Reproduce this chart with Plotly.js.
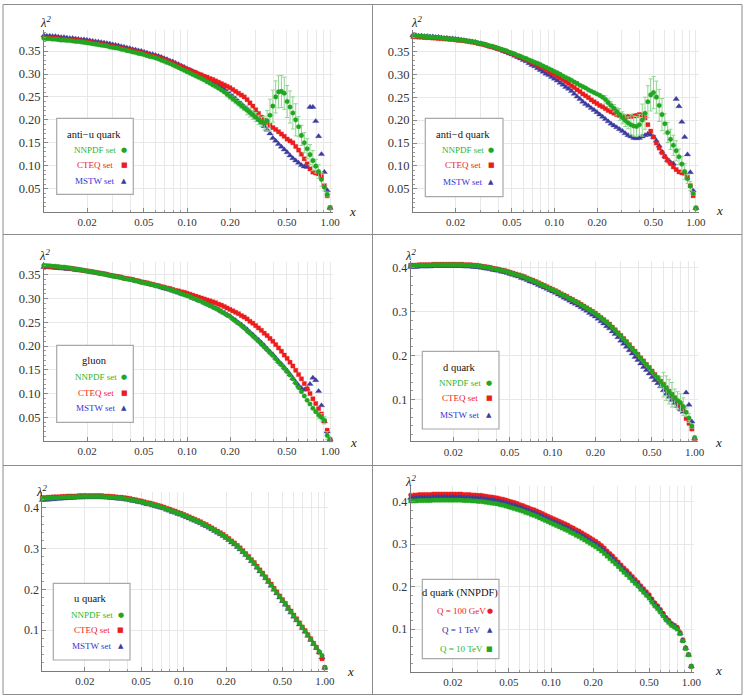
<!DOCTYPE html>
<html><head><meta charset="utf-8">
<script src="https://cdn.plot.ly/plotly-3.0.1.min.js"></script>
<style>html,body{margin:0;padding:0;background:#fff}#chart{width:747px;height:699px}</style>
</head><body><div id="chart"></div>
<script>
// ---------- x grid (momentum fraction) ----------
const X = [0.01,0.01047,0.01096,0.01148,0.01202,0.01259,0.01318,0.0138,0.01445,0.01514,
0.01585,0.0166,0.01738,0.0182,0.01905,0.01995,0.02089,0.02188,0.02291,0.02399,
0.02512,0.0263,0.02754,0.02884,0.0302,0.03162,0.03311,0.03467,0.03631,0.03802,
0.03981,0.04169,0.04365,0.04571,0.04786,0.05012,0.05248,0.05495,0.05754,0.06026,
0.0631,0.06607,0.06918,0.07244,0.07586,0.07943,0.08318,0.0871,0.0912,0.0955,
0.1,0.1047,0.1096,0.1148,0.1202,0.1259,0.1318,0.138,0.1445,0.1514,
0.1585,0.166,0.1738,0.182,0.1905,0.1995,0.2089,0.2188,0.2291,0.2399,
0.2512,0.263,0.2754,0.2884,0.302,0.3162,0.3311,0.3467,0.3631,0.3802,
0.3981,0.4169,0.4365,0.4571,0.4786,0.5012,0.5248,0.5495,0.5754,0.6026,
0.631,0.6607,0.6918,0.7244,0.7586,0.7943,0.8318,0.871,0.912,0.955,
1.0];

// ---------- panel 1: anti-u quark ----------
const antiU_NNPDF = [0.378,0.377,0.377,0.376,0.376,0.375,0.374,0.374,0.373,0.373,
0.372,0.371,0.371,0.370,0.369,0.368,0.367,0.366,0.365,0.364,
0.363,0.362,0.361,0.359,0.358,0.357,0.356,0.354,0.353,0.351,
0.350,0.348,0.347,0.345,0.344,0.342,0.340,0.338,0.337,0.335,
0.333,0.330,0.328,0.325,0.323,0.320,0.317,0.314,0.311,0.308,
0.305,0.302,0.299,0.296,0.293,0.290,0.287,0.283,0.280,0.276,
0.273,0.269,0.265,0.261,0.256,0.251,0.246,0.241,0.236,0.231,
0.226,0.221,0.216,0.211,0.206,0.200,0.196,0.193,0.198,0.210,
0.230,0.250,0.261,0.262,0.258,0.240,0.228,0.215,0.200,0.185,
0.166,0.150,0.137,0.124,0.111,0.099,0.087,0.070,0.053,0.037,
0.008];
const antiU_NNPDF_err = [0,0,0,0,0,0,0,0,0,0, 0,0,0,0,0,0,0,0,0,0, 0,0,0,0,0,0,0,0,0,0,
0,0,0,0,0,0,0,0,0,0, 0,0,0,0,0,0,0,0,0,0, 0,0,0,0,0,0,0,0,0,0,
0,0,0,0,0.006,0.006,0.006,0.006,0.006,0.006,
0.006,0.01,0.01,0.01,0.01,0.01,0.01,0.015,0.022,0.035,
0.035,0.035,0.035,0.035,0.035,0.035,0.035,0.035,0.035,0.022,
0.022,0.022,0.022,0.022,0.022,0.015,0.015,0.015,0.008,0.005,
0.003];
const antiU_CTEQ = [0.380,0.379,0.379,0.378,0.378,0.377,0.376,0.376,0.375,0.375,
0.374,0.373,0.373,0.372,0.371,0.370,0.369,0.368,0.367,0.366,
0.365,0.364,0.363,0.361,0.360,0.359,0.358,0.356,0.355,0.353,
0.352,0.351,0.349,0.348,0.346,0.345,0.343,0.341,0.340,0.338,
0.336,0.334,0.331,0.329,0.326,0.324,0.321,0.318,0.316,0.313,
0.310,0.308,0.305,0.303,0.300,0.298,0.295,0.293,0.290,0.288,
0.285,0.282,0.279,0.276,0.273,0.270,0.266,0.262,0.258,0.254,
0.250,0.244,0.237,0.230,0.222,0.214,0.206,0.199,0.193,0.188,
0.183,0.179,0.174,0.169,0.164,0.158,0.154,0.150,0.142,0.134,
0.125,0.115,0.104,0.093,0.086,0.084,0.082,0.076,0.057,0.034,
0.008];
const antiU_MSTW = [0.384,0.383,0.383,0.382,0.382,0.381,0.380,0.380,0.379,0.378,
0.378,0.377,0.376,0.375,0.375,0.374,0.373,0.372,0.371,0.370,
0.369,0.368,0.367,0.366,0.364,0.363,0.362,0.360,0.359,0.357,
0.356,0.354,0.353,0.351,0.350,0.348,0.346,0.344,0.343,0.341,
0.339,0.337,0.334,0.332,0.329,0.327,0.324,0.321,0.318,0.315,
0.312,0.309,0.306,0.303,0.300,0.297,0.294,0.290,0.287,0.283,
0.279,0.275,0.271,0.266,0.261,0.256,0.251,0.246,0.240,0.235,
0.229,0.224,0.218,0.212,0.206,0.200,0.193,0.186,0.178,0.170,
0.160,0.154,0.147,0.141,0.135,0.129,0.122,0.116,0.111,0.106,
0.101,0.098,0.097,0.228,0.228,0.197,0.164,0.125,0.086,0.046,
0.008];

// ---------- panel 2: anti-d quark ----------
const antiD_NNPDF = [0.384,0.384,0.383,0.383,0.382,0.382,0.381,0.381,0.380,0.380,
0.379,0.378,0.378,0.377,0.377,0.376,0.375,0.374,0.374,0.373,
0.372,0.371,0.370,0.368,0.367,0.366,0.364,0.362,0.361,0.359,
0.357,0.355,0.353,0.351,0.348,0.346,0.344,0.341,0.339,0.336,
0.334,0.331,0.329,0.326,0.324,0.321,0.318,0.315,0.312,0.309,
0.306,0.303,0.300,0.296,0.293,0.290,0.287,0.283,0.280,0.276,
0.273,0.270,0.266,0.263,0.260,0.257,0.254,0.250,0.245,0.238,
0.232,0.226,0.219,0.212,0.205,0.199,0.194,0.190,0.187,0.186,
0.190,0.200,0.215,0.240,0.255,0.260,0.250,0.232,0.212,0.192,
0.173,0.158,0.145,0.133,0.120,0.104,0.088,0.072,0.056,0.040,
0.008];
const antiD_NNPDF_err = [0,0,0,0,0,0,0,0,0,0, 0,0,0,0,0,0,0,0,0,0, 0,0,0,0,0,0,0,0,0,0,
0,0,0,0,0,0,0,0,0,0, 0,0,0,0,0,0,0,0,0,0, 0,0,0,0,0,0,0,0,0,0,
0,0,0,0,0,0,0,0,0.008,0.008,
0.008,0.008,0.008,0.013,0.013,0.013,0.013,0.022,0.022,0.022,
0.022,0.035,0.035,0.035,0.035,0.035,0.035,0.035,0.035,0.022,
0.022,0.022,0.022,0.022,0.017,0.017,0.017,0.01,0.01,0.004,
0.004];
const antiD_CTEQ = [0.382,0.382,0.381,0.381,0.380,0.380,0.380,0.379,0.379,0.378,
0.378,0.377,0.377,0.376,0.376,0.375,0.374,0.374,0.373,0.372,
0.371,0.370,0.369,0.367,0.366,0.365,0.363,0.361,0.360,0.358,
0.356,0.354,0.352,0.350,0.347,0.345,0.342,0.340,0.337,0.335,
0.332,0.329,0.326,0.323,0.320,0.317,0.314,0.310,0.307,0.303,
0.300,0.296,0.292,0.288,0.284,0.280,0.275,0.271,0.266,0.262,
0.257,0.253,0.249,0.244,0.240,0.236,0.232,0.229,0.225,0.221,
0.218,0.215,0.212,0.210,0.209,0.208,0.208,0.208,0.209,0.210,
0.212,0.211,0.205,0.190,0.176,0.163,0.150,0.139,0.129,0.120,
0.112,0.105,0.098,0.092,0.087,0.085,0.084,0.075,0.057,0.035,
0.008];
const antiD_MSTW = [0.385,0.385,0.384,0.384,0.383,0.383,0.382,0.382,0.381,0.381,
0.380,0.379,0.379,0.378,0.378,0.377,0.376,0.375,0.374,0.373,
0.372,0.371,0.370,0.368,0.367,0.365,0.363,0.361,0.359,0.357,
0.355,0.353,0.350,0.348,0.345,0.343,0.340,0.337,0.334,0.331,
0.328,0.324,0.320,0.317,0.313,0.309,0.305,0.301,0.298,0.294,
0.290,0.286,0.281,0.277,0.272,0.268,0.263,0.257,0.251,0.246,
0.240,0.235,0.231,0.226,0.222,0.217,0.212,0.207,0.202,0.197,
0.192,0.188,0.184,0.180,0.176,0.171,0.167,0.164,0.161,0.160,
0.161,0.164,0.167,0.170,0.168,0.163,0.155,0.144,0.131,0.121,
0.113,0.108,0.105,0.246,0.230,0.196,0.163,0.125,0.086,0.046,
0.008];

// ---------- panel 3: gluon ----------
const gluon_NNPDF = [0.370,0.369,0.369,0.368,0.368,0.367,0.366,0.366,0.365,0.364,
0.363,0.362,0.361,0.360,0.359,0.358,0.357,0.356,0.355,0.353,
0.352,0.351,0.350,0.349,0.347,0.346,0.345,0.344,0.342,0.341,
0.340,0.339,0.337,0.336,0.334,0.333,0.332,0.330,0.329,0.327,
0.326,0.324,0.323,0.321,0.319,0.317,0.315,0.313,0.310,0.308,
0.306,0.304,0.301,0.299,0.296,0.294,0.291,0.288,0.285,0.282,
0.279,0.276,0.272,0.269,0.265,0.262,0.257,0.252,0.248,0.243,
0.238,0.232,0.227,0.221,0.216,0.210,0.204,0.198,0.192,0.186,
0.180,0.173,0.166,0.160,0.153,0.146,0.139,0.131,0.122,0.113,
0.104,0.095,0.086,0.078,0.069,0.062,0.055,0.050,0.044,0.012,
0.004];
const gluon_NNPDF_err = [0,0,0,0,0,0,0,0,0,0, 0,0,0,0,0,0,0,0,0,0, 0,0,0,0,0,0,0,0,0,0,
0,0,0,0,0,0,0,0,0,0, 0,0,0,0,0,0,0,0,0,0, 0,0,0,0,0,0,0,0,0,0,
0,0,0,0,0,0,0,0,0,0, 0,0,0,0,0,0,0,0,0,0, 0,0,0,0,0,0,0,0,0,0,
0,0,0,0,0,0,0.008,0.008,0.008,0.008,
0.004];
const gluon_CTEQ = [0.368,0.368,0.367,0.367,0.366,0.366,0.365,0.365,0.364,0.364,
0.363,0.362,0.361,0.360,0.359,0.358,0.357,0.356,0.355,0.354,
0.353,0.352,0.351,0.349,0.348,0.347,0.346,0.345,0.343,0.342,
0.341,0.340,0.338,0.337,0.335,0.334,0.333,0.331,0.330,0.328,
0.327,0.325,0.324,0.322,0.321,0.319,0.317,0.316,0.314,0.313,
0.311,0.309,0.307,0.305,0.303,0.301,0.299,0.297,0.295,0.293,
0.291,0.288,0.286,0.283,0.280,0.277,0.274,0.271,0.268,0.264,
0.261,0.257,0.252,0.248,0.243,0.238,0.233,0.227,0.222,0.216,
0.210,0.203,0.196,0.189,0.181,0.174,0.166,0.158,0.149,0.140,
0.131,0.121,0.110,0.100,0.089,0.079,0.068,0.057,0.042,0.023,
0.003];
const gluon_MSTW = [0.366,0.366,0.365,0.365,0.364,0.364,0.363,0.363,0.362,0.362,
0.361,0.360,0.359,0.359,0.358,0.357,0.356,0.355,0.354,0.353,
0.352,0.351,0.350,0.348,0.347,0.346,0.345,0.344,0.342,0.341,
0.340,0.339,0.337,0.336,0.334,0.333,0.331,0.330,0.328,0.327,
0.325,0.323,0.321,0.320,0.318,0.316,0.314,0.312,0.310,0.308,
0.306,0.304,0.301,0.299,0.296,0.294,0.291,0.288,0.286,0.283,
0.280,0.277,0.273,0.270,0.266,0.263,0.258,0.254,0.249,0.245,
0.240,0.235,0.229,0.224,0.218,0.213,0.207,0.201,0.194,0.188,
0.182,0.175,0.168,0.162,0.155,0.148,0.140,0.132,0.124,0.117,
0.111,0.108,0.110,0.120,0.133,0.128,0.105,0.075,0.042,0.020,
0.004];

// ---------- panel 4: d quark ----------
const dQ_NNPDF = [0.405,0.405,0.405,0.406,0.406,0.406,0.406,0.406,0.407,0.407,
0.407,0.407,0.407,0.407,0.407,0.407,0.407,0.407,0.407,0.406,
0.406,0.406,0.405,0.405,0.404,0.403,0.402,0.401,0.400,0.398,
0.397,0.396,0.394,0.393,0.391,0.389,0.387,0.385,0.383,0.381,
0.379,0.376,0.373,0.371,0.368,0.365,0.362,0.359,0.356,0.353,
0.350,0.347,0.344,0.340,0.337,0.334,0.330,0.327,0.323,0.320,
0.316,0.312,0.308,0.304,0.300,0.296,0.291,0.286,0.281,0.276,
0.271,0.264,0.258,0.251,0.245,0.238,0.231,0.224,0.216,0.209,
0.202,0.194,0.187,0.179,0.172,0.164,0.156,0.149,0.141,0.134,
0.126,0.118,0.111,0.104,0.098,0.093,0.084,0.071,0.058,0.040,
0.013];
const dQ_NNPDF_err = [0,0,0,0,0,0,0,0,0,0, 0,0,0,0,0,0,0,0,0,0, 0,0,0,0,0,0,0,0,0,0,
0,0,0,0,0,0,0,0,0,0, 0,0,0,0,0,0,0,0,0,0, 0,0,0,0,0,0,0,0,0,0,
0,0,0,0,0,0,0,0,0,0, 0,0,0,0,0,0,0,0,0,0,
0,0,0,0,0,0,0,0,0.012,0.028,
0.028,0.028,0.028,0.02,0.02,0.02,0.02,0.01,0.01,0.005,
0.005];
const dQ_CTEQ = [0.406,0.406,0.406,0.407,0.407,0.407,0.407,0.407,0.408,0.408,
0.408,0.408,0.408,0.408,0.408,0.408,0.408,0.408,0.408,0.407,
0.407,0.407,0.406,0.406,0.405,0.404,0.403,0.402,0.401,0.399,
0.398,0.397,0.395,0.394,0.392,0.390,0.388,0.386,0.384,0.382,
0.380,0.377,0.374,0.372,0.369,0.366,0.363,0.360,0.357,0.354,
0.351,0.348,0.345,0.341,0.338,0.335,0.331,0.328,0.324,0.321,
0.317,0.313,0.309,0.305,0.301,0.297,0.292,0.287,0.282,0.277,
0.272,0.265,0.259,0.252,0.246,0.239,0.232,0.225,0.217,0.210,
0.203,0.195,0.188,0.180,0.173,0.165,0.157,0.150,0.142,0.135,
0.127,0.119,0.112,0.104,0.095,0.087,0.080,0.057,0.046,0.033,
0.009];
const dQ_MSTW = [0.402,0.402,0.402,0.403,0.403,0.403,0.403,0.403,0.404,0.404,
0.404,0.404,0.404,0.404,0.404,0.404,0.404,0.404,0.404,0.403,
0.403,0.403,0.402,0.402,0.401,0.400,0.399,0.398,0.397,0.395,
0.394,0.393,0.391,0.390,0.388,0.386,0.384,0.382,0.380,0.377,
0.375,0.372,0.369,0.367,0.364,0.361,0.358,0.355,0.352,0.349,
0.346,0.343,0.339,0.336,0.332,0.329,0.325,0.321,0.318,0.314,
0.310,0.306,0.302,0.297,0.293,0.289,0.284,0.278,0.273,0.267,
0.262,0.255,0.249,0.242,0.234,0.227,0.220,0.212,0.205,0.197,
0.190,0.182,0.174,0.167,0.159,0.151,0.144,0.137,0.130,0.121,
0.113,0.106,0.099,0.092,0.085,0.078,0.072,0.116,0.088,0.050,
0.011];

// ---------- panel 5: u quark ----------
const uQ_NNPDF = [0.423,0.423,0.424,0.424,0.425,0.425,0.425,0.426,0.426,0.427,
0.427,0.427,0.427,0.428,0.428,0.428,0.428,0.428,0.428,0.428,
0.428,0.428,0.427,0.427,0.426,0.426,0.425,0.424,0.424,0.423,
0.422,0.421,0.419,0.418,0.416,0.415,0.413,0.411,0.410,0.408,
0.406,0.404,0.402,0.400,0.397,0.395,0.392,0.390,0.387,0.385,
0.382,0.379,0.376,0.373,0.370,0.367,0.364,0.360,0.357,0.353,
0.349,0.345,0.341,0.337,0.333,0.328,0.323,0.317,0.312,0.306,
0.300,0.293,0.286,0.279,0.271,0.264,0.255,0.246,0.238,0.229,
0.220,0.211,0.201,0.192,0.182,0.173,0.164,0.154,0.145,0.135,
0.126,0.116,0.107,0.098,0.088,0.078,0.067,0.057,0.047,0.038,
0.009];
const uQ_CTEQ = [0.425,0.425,0.426,0.426,0.427,0.427,0.427,0.428,0.428,0.429,
0.429,0.429,0.429,0.430,0.430,0.430,0.430,0.430,0.430,0.430,
0.430,0.430,0.429,0.429,0.428,0.428,0.427,0.426,0.426,0.425,
0.424,0.423,0.421,0.420,0.418,0.417,0.415,0.413,0.412,0.410,
0.408,0.406,0.404,0.402,0.399,0.397,0.394,0.392,0.389,0.387,
0.384,0.381,0.378,0.375,0.372,0.369,0.366,0.362,0.359,0.355,
0.351,0.347,0.343,0.339,0.335,0.330,0.325,0.319,0.314,0.308,
0.302,0.295,0.288,0.281,0.273,0.266,0.257,0.248,0.240,0.231,
0.222,0.213,0.203,0.194,0.184,0.175,0.166,0.156,0.147,0.137,
0.128,0.118,0.108,0.099,0.089,0.079,0.068,0.058,0.046,0.030,
0.008];
const uQ_MSTW = [0.419,0.420,0.420,0.421,0.421,0.422,0.422,0.423,0.423,0.424,
0.424,0.424,0.425,0.425,0.425,0.426,0.426,0.426,0.426,0.426,
0.426,0.426,0.425,0.425,0.424,0.424,0.423,0.422,0.422,0.421,
0.420,0.419,0.417,0.416,0.414,0.413,0.411,0.409,0.408,0.406,
0.404,0.402,0.400,0.398,0.395,0.393,0.390,0.388,0.385,0.383,
0.380,0.377,0.374,0.371,0.368,0.365,0.362,0.358,0.355,0.351,
0.347,0.343,0.339,0.335,0.331,0.326,0.321,0.315,0.310,0.304,
0.298,0.291,0.284,0.277,0.269,0.262,0.253,0.244,0.236,0.227,
0.218,0.209,0.199,0.190,0.180,0.171,0.162,0.152,0.143,0.133,
0.124,0.114,0.105,0.096,0.086,0.076,0.066,0.056,0.046,0.033,
0.008];

// ---------- panel 6: d quark (NNPDF) at three scales ----------
const dNN_Q100GeV = [0.416,0.416,0.416,0.417,0.417,0.417,0.417,0.417,0.418,0.418,
0.418,0.418,0.418,0.418,0.418,0.418,0.418,0.418,0.418,0.417,
0.417,0.417,0.416,0.416,0.415,0.415,0.414,0.413,0.412,0.411,
0.410,0.409,0.407,0.406,0.404,0.402,0.400,0.398,0.396,0.393,
0.391,0.388,0.386,0.383,0.381,0.378,0.375,0.372,0.369,0.366,
0.363,0.360,0.357,0.354,0.351,0.348,0.345,0.341,0.338,0.334,
0.331,0.327,0.323,0.319,0.315,0.311,0.307,0.302,0.297,0.291,
0.284,0.278,0.272,0.265,0.258,0.251,0.244,0.238,0.231,0.224,
0.217,0.210,0.202,0.195,0.188,0.181,0.171,0.162,0.155,0.146,
0.137,0.127,0.1205,0.113,0.109,0.104,0.092,0.075,0.056,0.040,
0.012];
const dNN_Q1TeV = [0.409,0.409,0.409,0.410,0.410,0.410,0.410,0.410,0.411,0.411,
0.411,0.411,0.411,0.411,0.411,0.411,0.411,0.411,0.411,0.410,
0.410,0.410,0.409,0.409,0.408,0.408,0.407,0.406,0.405,0.404,
0.403,0.402,0.400,0.399,0.397,0.395,0.393,0.391,0.389,0.387,
0.384,0.381,0.379,0.376,0.374,0.371,0.368,0.365,0.362,0.359,
0.356,0.353,0.350,0.347,0.344,0.341,0.338,0.334,0.331,0.327,
0.324,0.320,0.316,0.312,0.308,0.304,0.300,0.295,0.290,0.284,
0.278,0.272,0.266,0.259,0.252,0.246,0.239,0.233,0.226,0.219,
0.212,0.206,0.198,0.191,0.184,0.177,0.167,0.159,0.152,0.143,
0.134,0.125,0.118,0.111,0.107,0.102,0.090,0.073,0.055,0.039,
0.012];
const dNN_Q10TeV = [0.402,0.402,0.402,0.403,0.403,0.403,0.403,0.403,0.404,0.404,
0.404,0.404,0.404,0.404,0.404,0.404,0.404,0.404,0.404,0.403,
0.403,0.403,0.402,0.402,0.401,0.401,0.400,0.399,0.398,0.397,
0.396,0.395,0.393,0.392,0.390,0.388,0.386,0.384,0.382,0.380,
0.378,0.375,0.373,0.370,0.368,0.365,0.362,0.359,0.356,0.353,
0.350,0.347,0.344,0.341,0.338,0.335,0.332,0.328,0.325,0.321,
0.318,0.314,0.310,0.306,0.302,0.298,0.294,0.289,0.284,0.278,
0.272,0.266,0.260,0.254,0.2475,0.241,0.234,0.228,0.2215,0.2145,
0.208,0.202,0.194,0.187,0.180,0.173,0.1635,0.155,0.148,0.140,
0.131,0.122,0.1155,0.1085,0.105,0.100,0.089,0.072,0.054,0.039,
0.012];

// ---------- ticks ----------
const xTickVals = [0.02,0.05,0.1,0.2,0.5,1];
const xTickText = ['0.02','0.05','0.10','0.20','0.50','1.00'];
const xMinorVals = [0.01,0.03,0.04,0.06,0.07,0.08,0.09,0.3,0.4,0.6,0.7,0.8,0.9];
const yTickValsA = [0.05,0.1,0.15,0.2,0.25,0.3,0.35];
const yTickTextA = ['0.05','0.10','0.15','0.20','0.25','0.30','0.35'];
const yMinorA = [0.01,0.02,0.03,0.04,0.06,0.07,0.08,0.09,0.11,0.12,0.13,0.14,0.16,0.17,0.18,0.19,
  0.21,0.22,0.23,0.24,0.26,0.27,0.28,0.29,0.31,0.32,0.33,0.34,0.36,0.37,0.38,0.39];
const yTickValsB = [0.1,0.2,0.3,0.4];
const yTickTextB = ['0.1','0.2','0.3','0.4'];
const yMinorB = [0.02,0.04,0.06,0.08,0.12,0.14,0.16,0.18,0.22,0.24,0.26,0.28,0.32,0.34,0.36,0.38,0.42];

// ---------- styling ----------
const W = 747, H = 699;
const SERIF = 'Liberation Serif, Times New Roman, serif';
const GREEN = '#22a622', RED = '#ec1d1d', BLUE = '#3c3ca0';
const HALO = {g:'rgba(34,166,34,0.35)', r:'rgba(236,29,29,0.35)', b:'rgba(60,60,160,0.35)'};
const GRID = '#e8e8e8';
const SYM = {circle:['circle',4.6], square:['square',4.2], tri:['triangle-up',5.6]};

const panels = [
 {xd:[44,332.9], yd:[211.5,30], yr:[0,0.396], yk:'A',
  series:[{y:antiU_MSTW,c:BLUE,h:HALO.b,s:'tri'},{y:antiU_CTEQ,c:RED,h:HALO.r,s:'square'},
          {y:antiU_NNPDF,e:antiU_NNPDF_err,c:GREEN,h:HALO.g,s:'circle'}]},
 {xd:[413,698.8], yd:[211.8,30], yr:[0,0.3965], yk:'A',
  series:[{y:antiD_MSTW,c:BLUE,h:HALO.b,s:'tri'},{y:antiD_CTEQ,c:RED,h:HALO.r,s:'square'},
          {y:antiD_NNPDF,e:antiD_NNPDF_err,c:GREEN,h:HALO.g,s:'circle'}]},
 {xd:[44,332.9], yd:[441.1,262], yr:[0,0.3768], yk:'A',
  series:[{y:gluon_MSTW,c:BLUE,h:HALO.b,s:'tri'},{y:gluon_CTEQ,c:RED,h:HALO.r,s:'square'},
          {y:gluon_NNPDF,e:gluon_NNPDF_err,c:GREEN,h:HALO.g,s:'circle'}]},
 {xd:[410.7,697.5], yd:[441.3,261.3], yr:[0.005,0.415], yk:'B',
  series:[{y:dQ_MSTW,c:BLUE,h:HALO.b,s:'tri'},{y:dQ_CTEQ,c:RED,h:HALO.r,s:'square'},
          {y:dQ_NNPDF,e:dQ_NNPDF_err,c:GREEN,h:HALO.g,s:'circle'}]},
 {xd:[42.3,327.7], yd:[671,491.6], yr:[0,0.44], yk:'B',
  series:[{y:uQ_MSTW,c:BLUE,h:HALO.b,s:'tri'},{y:uQ_CTEQ,c:RED,h:HALO.r,s:'square'},
          {y:uQ_NNPDF,c:GREEN,h:HALO.g,s:'circle'}]},
 {xd:[410.7,694.1], yd:[671.5,486], yr:[0,0.4372], yk:'B',
  series:[{y:dNN_Q100GeV,c:RED,h:HALO.r,s:'circle'},{y:dNN_Q1TeV,c:BLUE,h:HALO.b,s:'tri'},
          {y:dNN_Q10TeV,c:GREEN,h:HALO.g,s:'square'}]}
];

const layout = {width:W, height:H, margin:{l:0,r:0,t:0,b:0}, paper_bgcolor:'#fff', plot_bgcolor:'rgba(0,0,0,0)',
  showlegend:false, hovermode:false, shapes:[], annotations:[]};
const traces = [];

panels.forEach((p, k) => {
  const n = k + 1, sfx = n === 1 ? '' : String(n);
  layout['xaxis' + sfx] = {
    domain:[p.xd[0]/W, p.xd[1]/W], anchor:'y' + sfx, type:'log', range:[-2, 0.02],
    tickmode:'array', tickvals:xTickVals, ticktext:xTickText,
    ticks:'inside', ticklen:4, tickwidth:1, tickcolor:'#8a8a8a',
    showline:true, linecolor:'#7a7a7a', linewidth:1, zeroline:false,
    showgrid:true, gridcolor:GRID, gridwidth:1,
    tickfont:{family:SERIF, size:11, color:'#333'},
    minor:{tickmode:'array', tickvals:xMinorVals, ticks:'inside', ticklen:2, tickcolor:'#9a9a9a', showgrid:true, gridcolor:GRID},
    fixedrange:true
  };
  const A = p.yk === 'A';
  layout['yaxis' + sfx] = {
    domain:[1 - p.yd[0]/H, 1 - p.yd[1]/H], anchor:'x' + sfx, range:p.yr,
    tickmode:'array', tickvals:A ? yTickValsA : yTickValsB, ticktext:A ? yTickTextA : yTickTextB,
    ticks:'inside', ticklen:4, tickwidth:1, tickcolor:'#8a8a8a',
    showline:true, linecolor:'#7a7a7a', linewidth:1, zeroline:false,
    showgrid:true, gridcolor:GRID, gridwidth:1,
    tickfont:{family:SERIF, size:A ? 12.5 : 12, color:'#333'},
    minor:{tickmode:'array', tickvals:A ? yMinorA : yMinorB, ticks:'inside', ticklen:2, tickcolor:'#9a9a9a', showgrid:false},
    fixedrange:true
  };
  p.series.forEach(s => {
    const t = {type:'scatter', mode:'markers', x:X, y:s.y, xaxis:'x' + sfx, yaxis:'y' + sfx,
      marker:{symbol:SYM[s.s][0], size:SYM[s.s][1], color:s.c, line:{width:0.9, color:s.h}},
      cliponaxis:false, hoverinfo:'skip', showlegend:false};
    if (s.e) t.error_y = {type:'data', array:s.e, visible:true, color:'#8fd68f', thickness:1, width:2};
    traces.push(t);
  });
});

// ---------- helpers for paper-positioned text/shapes ----------
function ann(px, py, text, size, color, extra) {
  return Object.assign({xref:'paper', yref:'paper', x:px/W, y:1 - py/H, text:text, showarrow:false,
    xanchor:'center', yanchor:'middle', font:{family:SERIF, size:size, color:color}}, extra || {});
}
function glyph(px, py, ch, color) {
  return {xref:'paper', yref:'paper', x:px/W, y:1 - py/H, text:ch, showarrow:false,
    xanchor:'center', yanchor:'middle', font:{family:'DejaVu Sans', size:7, color:color}};
}
function line(x0, y0, x1, y1) {
  return {type:'line', xref:'paper', yref:'paper', x0:x0/W, y0:1 - y0/H, x1:x1/W, y1:1 - y1/H,
    line:{color:'#8c8c8c', width:1}, layer:'above'};
}

// axis labels (italic via font style)
const axisLabels = [
  [45, 22, 352, 211], [416.3, 22, 719.7, 210], [44.3, 254.7, 353.3, 442.3],
  [410.3, 254.7, 718, 442.3], [41.7, 491, 350, 671], [410.3, 481, 718, 670]
];
axisLabels.forEach(a => {
  layout.annotations.push({xref:'paper', yref:'paper', x:a[0]/W, y:1 - a[1]/H, text:'λ<sup>2</sup>',
    showarrow:false, xanchor:'center', yanchor:'middle', font:{family:SERIF, size:12.5, color:'#222', style:'italic'}});
  layout.annotations.push({xref:'paper', yref:'paper', x:a[2]/W, y:1 - a[3]/H, text:'x',
    showarrow:false, xanchor:'center', yanchor:'middle', font:{family:SERIF, size:13, color:'#222', style:'italic'}});
});

// legend boxes
const legendNames = ['NNPDF set', 'CTEQ set', 'MSTW set'];
const legendCols = ['#2db52d', '#ee2020', '#3434d6'];
const legendGlyph = [['●', GREEN], ['■', RED], ['▲', BLUE]];
const legends = [
  {box:[56.7,118.3,133.3,194.3], title:'anti−u quark', tx:94.3, ty:134.3, ex:95, ey:[150,165,180.7], mx:124},
  {box:[425.3,118.3,503,196.7], title:'anti−d quark', tx:463, ty:134.3, ex:463.3, ey:[150,165,181.7], mx:491.3},
  {box:[56.7,345.3,133.3,422.3], title:'gluon', tx:94.3, ty:360.7, ex:95.5, ey:[377.3,393,408], mx:124},
  {box:[422.3,351.3,499,429], title:'d quark', tx:459.7, ty:367.3, ex:460.3, ey:[383,398,414.7], mx:489},
  {box:[53.3,583.3,130,660], title:'u quark', tx:90, ty:598.3, ex:91.7, ey:[615.3,630,646], mx:121},
  {box:[422.3,579.3,499,658.7], title:'d quark (NNPDF)', tx:460.3, ty:592.7, ex:461, ey:[611,630,648.7], mx:489.7,
   names:['Q = 100 GeV','Q = 1 TeV','Q = 10 TeV'], cols:['#ee2020','#2a2aa8','#2db52d'],
   glyphs:[['●', RED], ['▲', BLUE], ['■', GREEN]]}
];
legends.forEach(L => {
  layout.shapes.push({type:'rect', xref:'paper', yref:'paper', x0:L.box[0]/W, x1:L.box[2]/W,
    y0:1 - L.box[3]/H, y1:1 - L.box[1]/H, fillcolor:'#fff', line:{color:'#a8a8a8', width:1.2}, layer:'above'});
  layout.annotations.push(ann(L.tx, L.ty, L.title, 10.5, '#111'));
  const names = L.names || legendNames, cols = L.cols || legendCols, gl = L.glyphs || legendGlyph;
  for (let j = 0; j < 3; j++) {
    layout.annotations.push(ann(L.ex, L.ey[j], names[j], 9, cols[j]));
    layout.annotations.push(glyph(L.mx, L.ey[j], gl[j][0], gl[j][1]));
  }
});

// panel frame
layout.shapes.push(line(3, 4.5, 742, 4.5), line(3, 694.5, 742, 694.5), line(3, 4.5, 3, 694.5),
  line(742, 4.5, 742, 694.5), line(372.5, 4.5, 372.5, 694.5), line(3, 234.5, 742, 234.5), line(3, 465.5, 742, 465.5));

Plotly.newPlot('chart', traces, layout, {staticPlot:true, displayModeBar:false});
</script>
</body></html>
